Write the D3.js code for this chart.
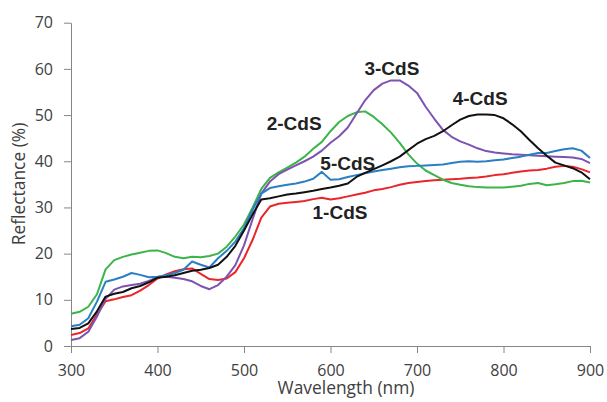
<!DOCTYPE html>
<html>
<head>
<meta charset="utf-8">
<script src="https://cdn.jsdelivr.net/npm/d3@7"></script>
<style>
  body { margin: 0; background: #fff; }
  svg { display: block; }
  .tick text { font-family: "Open Sans", sans-serif; font-size: 16px; fill: #404040; }
  .axis path, .axis line { stroke: #868686; }
</style>
</head>
<body>
<svg id="chart" width="607" height="402"></svg>
<script>
// wavelengths (nm), one reading every 10 nm
const wavelength = d3.range(300, 901, 10);

// reflectance (%)
const cds1 = [2.4, 2.8, 3.8, 6.8, 9.7, 10.1, 10.6, 11.0, 12.0, 13.2,
  14.6, 15.5, 16.2, 16.6, 16.8, 15.6, 14.5, 14.3, 14.6, 16.0,
  19.0, 23.0, 27.8, 30.2, 30.8, 31.0, 31.2, 31.4, 31.8, 32.1,
  31.7, 32.0, 32.4, 32.8, 33.2, 33.7, 34.0, 34.4, 34.9, 35.3,
  35.5, 35.7, 35.9, 36.0, 36.1, 36.2, 36.4, 36.5, 36.7, 37.0,
  37.2, 37.5, 37.8, 38.0, 38.1, 38.4, 38.8, 39.0, 38.8, 38.3, 37.6];

const cds2 = [7.0, 7.4, 8.5, 11.2, 16.6, 18.6, 19.3, 19.8, 20.2, 20.6,
  20.7, 20.1, 19.3, 19.0, 19.3, 19.2, 19.5, 20.0, 21.5, 23.7,
  26.3, 30.0, 34.0, 36.4, 37.6, 38.6, 39.7, 41.0, 42.7, 44.2,
  46.5, 48.5, 49.8, 50.6, 50.8, 49.6, 48.0, 46.2, 44.0, 41.5,
  39.5, 38.0, 37.0, 36.0, 35.3, 34.9, 34.6, 34.4, 34.3, 34.3,
  34.3, 34.5, 34.7, 35.1, 35.3, 34.8, 35.0, 35.3, 35.7, 35.8, 35.4];

const cds3 = [1.3, 1.7, 3.1, 6.4, 10.2, 12.2, 12.9, 13.2, 13.5, 14.1,
  14.9, 15.0, 14.8, 14.5, 14.0, 13.0, 12.3, 13.2, 15.0, 17.5,
  21.8, 27.5, 33.0, 35.6, 37.2, 38.2, 39.1, 40.0, 41.0, 42.3,
  44.0, 45.4, 47.3, 50.3, 53.2, 55.4, 56.8, 57.5, 57.5, 56.4,
  54.8, 51.8, 49.2, 46.8, 45.3, 44.3, 43.6, 42.8, 42.2, 41.9,
  41.7, 41.5, 41.4, 41.3, 41.2, 41.1, 41.0, 40.9, 40.8, 40.5, 39.6];

const cds4 = [3.7, 3.9, 4.9, 7.5, 10.7, 11.3, 11.7, 12.5, 13.0, 13.8,
  14.8, 15.0, 15.3, 15.8, 16.3, 16.5, 16.9, 17.6, 19.3, 21.7,
  25.0, 28.5, 31.7, 32.0, 32.4, 32.8, 33.0, 33.3, 33.6, 34.0,
  34.3, 34.7, 35.2, 36.6, 37.5, 38.3, 39.1, 40.0, 41.0, 42.4,
  43.8, 44.8, 45.5, 46.5, 47.8, 49.0, 49.8, 50.1, 50.1, 50.0,
  49.3, 48.0, 46.5, 44.6, 42.8, 41.2, 39.7, 39.1, 38.5, 37.6, 36.1];

const cds5 = [4.3, 4.6, 6.0, 9.6, 13.9, 14.4, 15.0, 15.8, 15.4, 14.9,
  15.0, 15.3, 15.8, 16.5, 18.3, 17.6, 17.0, 19.0, 20.6, 22.6,
  25.5, 29.5, 33.0, 34.2, 34.6, 34.9, 35.2, 35.6, 36.2, 37.7,
  36.0, 36.1, 36.6, 37.0, 37.4, 37.8, 38.1, 38.4, 38.7, 38.9,
  39.0, 39.1, 39.2, 39.3, 39.6, 39.9, 40.0, 39.9, 40.0, 40.2,
  40.4, 40.7, 41.0, 41.4, 41.8, 41.8, 42.2, 42.6, 42.8, 42.3, 40.7];

const seriesNames = ['1-CdS', '2-CdS', '3-CdS', '4-CdS', '5-CdS'];
const seriesValues = [cds1, cds2, cds3, cds4, cds5];
const seriesColors = ['#e8262b', '#3bb44a', '#7d52b0', '#111111', '#2a7fc4'];

// where each name sits (wavelength at centre, reflectance at baseline)
const labelWl = [611, 558, 671, 773, 620];
const labelR = [27.5, 46.8, 58.7, 52.2, 38.1];

const xTicks = d3.range(300, 901, 100);
const yTicks = d3.range(0, 71, 10);

const svg = d3.select('#chart');

const x = d3.scaleLinear().domain([300, 900]).range([71, 590]);
const y = d3.scaleLinear().domain([0, 70]).range([346, 22.7]);

// axes
svg.append('g')
  .attr('class', 'axis')
  .attr('transform', 'translate(0,346)')
  .call(d3.axisBottom(x).tickValues(xTicks).tickSize(7).tickPadding(12).tickSizeOuter(0));

svg.append('g')
  .attr('class', 'axis')
  .attr('transform', 'translate(71,0)')
  .call(d3.axisLeft(y).tickValues(yTicks).tickSize(7).tickPadding(11).tickSizeOuter(0));

svg.selectAll('.axis .domain').attr('stroke', '#868686');

// axis titles
svg.append('text')
  .attr('x', 346)
  .attr('y', 394)
  .attr('text-anchor', 'middle')
  .style('font-family', '"Open Sans", sans-serif')
  .style('font-size', '17.4px')
  .style('fill', '#404040')
  .text('Wavelength (nm)');

svg.append('text')
  .attr('transform', 'translate(25,184) rotate(-90)')
  .attr('text-anchor', 'middle')
  .style('font-family', '"Open Sans", sans-serif')
  .style('font-size', '17.4px')
  .style('fill', '#404040')
  .text('Reflectance (%)');

// the spectra
const line = d3.line()
  .x((d, i) => x(wavelength[i]))
  .y(d => y(d));

const order = [0, 1, 2, 4, 3];
svg.selectAll('.spectrum')
  .data(order)
  .enter()
  .append('path')
  .attr('class', 'spectrum')
  .attr('fill', 'none')
  .attr('stroke', i => seriesColors[i])
  .attr('stroke-width', 2)
  .attr('stroke-linejoin', 'round')
  .attr('d', i => line(seriesValues[i]));

// series names
svg.selectAll('.name')
  .data(seriesNames)
  .enter()
  .append('text')
  .attr('class', 'name')
  .attr('x', (d, i) => x(labelWl[i]))
  .attr('y', (d, i) => y(labelR[i]))
  .attr('text-anchor', 'middle')
  .style('font-family', '"Liberation Sans", Arial, sans-serif')
  .style('font-weight', 'bold')
  .style('font-size', '19px')
  .style('fill', '#222')
  .text(d => d);
</script>
</body>
</html>
